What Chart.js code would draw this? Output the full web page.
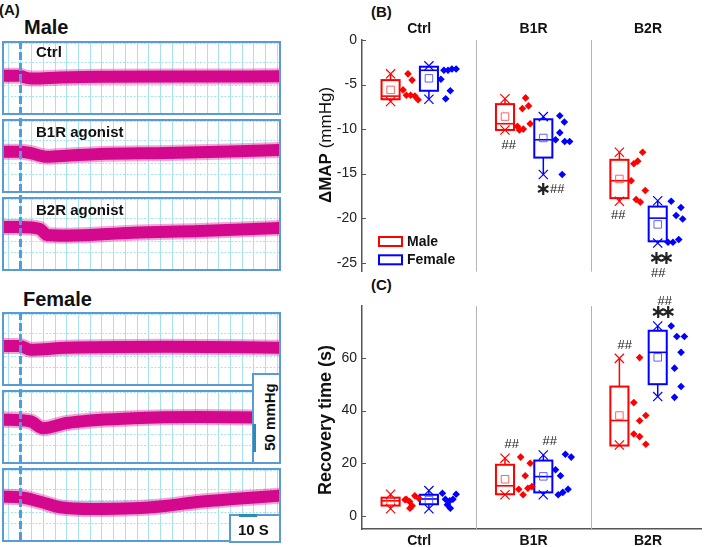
<!DOCTYPE html>
<html><head><meta charset="utf-8">
<script src="https://cdn.jsdelivr.net/npm/chart.js@4"></script>
<style>
body{margin:0;background:#fff;width:709px;height:547px;overflow:hidden;position:relative;font-family:"Liberation Sans",Arial,sans-serif;}
.abs{position:absolute;}
.tbox{position:absolute;left:2px;width:279px;height:74px;box-sizing:border-box;border:2px solid #5b9bd5;background:#fff;}
.tbox canvas{display:block;}
.lbl{position:absolute;font-weight:bold;line-height:1;white-space:nowrap;color:#111;}
.dash{position:absolute;left:19px;width:3px;background:repeating-linear-gradient(to bottom,#4d9de0 0px,#4d9de0 8px,rgba(0,0,0,0) 8px,rgba(0,0,0,0) 11px);z-index:3;}
.sbox{position:absolute;box-sizing:border-box;border:2px solid #5b9bd5;background:#fff;z-index:4;}
.bar{position:absolute;background:#2a8db2;z-index:5;}
</style></head><body>

<div class="lbl" style="left:-1px;top:2px;font-size:15px;">(A)</div>
<div class="lbl" style="left:24px;top:17px;font-size:20px;">Male</div>
<div class="lbl" style="left:23px;top:289px;font-size:20px;">Female</div>
<div class="lbl" style="left:371px;top:4px;font-size:15px;">(B)</div>
<div class="lbl" style="left:371px;top:277px;font-size:15px;">(C)</div>

<div class="tbox" style="top:41px;"><canvas id="t1" width="275" height="70"></canvas></div>
<div class="tbox" style="top:119px;"><canvas id="t2" width="275" height="70"></canvas></div>
<div class="tbox" style="top:197px;"><canvas id="t3" width="275" height="70"></canvas></div>
<div class="tbox" style="top:312px;"><canvas id="t4" width="275" height="70"></canvas></div>
<div class="tbox" style="top:390px;"><canvas id="t5" width="275" height="70"></canvas></div>
<div class="tbox" style="top:468px;"><canvas id="t6" width="275" height="70"></canvas></div>

<div class="lbl" style="left:36px;top:44px;font-size:15px;z-index:2;">Ctrl</div>
<div class="lbl" style="left:36px;top:124px;font-size:15px;z-index:2;">B1R agonist</div>
<div class="lbl" style="left:36px;top:202px;font-size:15px;z-index:2;">B2R agonist</div>

<div class="dash" style="top:41px;height:230px;"></div>
<div class="dash" style="top:312px;height:230px;"></div>

<div class="sbox" style="left:252px;top:373px;width:29px;height:91px;"></div>
<div class="bar" style="left:253px;top:424px;width:3px;height:28px;"></div>
<div class="lbl" style="left:269px;top:417px;font-size:15px;z-index:6;transform:translate(-50%,-50%) rotate(-90deg);">50 mmHg</div>

<div class="sbox" style="left:229px;top:514px;width:52px;height:29px;"></div>
<div class="bar" style="left:239px;top:514px;width:18px;height:3px;"></div>
<div class="lbl" style="left:238px;top:522px;font-size:15px;z-index:6;">10 S</div>

<canvas id="cB" class="abs" style="left:300px;top:0px;" width="409" height="285"></canvas>
<canvas id="cC" class="abs" style="left:300px;top:285px;" width="409" height="262"></canvas>

<script>
// ---------- DATA ----------
const categories = ['Ctrl', 'B1R', 'B2R'];

// Panel A: pressure traces (time in s, pressure centre-line in mmHg)
const maleCtrlT = [0, 10, 12.8, 17.2, 32.2, 54.4, 110, 155];
const maleCtrlP = [96.6, 96.6, 93.4, 91.6, 93.4, 94.8, 95.2, 95.5];
const maleB1RT = [0, 10, 15.6, 25, 37.8, 54.4, 91.7, 126.7, 155];
const maleB1RP = [100.2, 100.2, 97.9, 91.1, 93.4, 96.1, 97.9, 100.5, 103.2];
const maleB2RT = [0, 10, 21.1, 25, 36.1, 72.8, 110, 155];
const maleB2RP = [105, 105, 101.4, 90.7, 89.5, 94.8, 97.9, 103.2];
const femCtrlT = [0, 10, 15.6, 36.1, 91.7, 155];
const femCtrlP = [97.9, 97.9, 91.3, 94.8, 96.6, 94.8];
const femB1RT = [0, 15.6, 22.8, 36.1, 72.8, 110, 155];
const femB1RP = [105.5, 102.7, 90.2, 99.6, 108, 110.4, 109.1];
const femB2RT = [0, 10, 21.1, 32.2, 50.6, 72.8, 91.7, 110, 128.3, 155];
const femB2RP = [107.3, 106.3, 98.4, 88.4, 85.4, 86.6, 91.3, 98.4, 103.2, 109.1];

// Panel B: ΔMAP (mmHg)
const mapTicks = [0, -5, -10, -15, -20, -25];
const mapMaleQ1 = [-6.65, -10.1, -17.75];
const mapMaleQ3 = [-4.5, -7.2, -13.45];
const mapMaleMed = [-6.3, -9.4, -15.8];
const mapMaleMean = [-5.6, -8.6, -15.6];
const mapMaleMin = [-6.9, -10.1, -18.1];
const mapMaleMax = [-3.8, -6.6, -12.6];
const mapMalePts = [[-5.6, -3.8, -4.5, -6.2, -6.2, -6.3, -6.7], [-6.5, -7.4, -7.7, -9.4, -9.7, -10.0, -10.1], [-12.6, -13.6, -13.9, -15.8, -16.9, -17.9, -18.2]];
const mapFemaleQ1 = [-5.7, -13.2, -22.6];
const mapFemaleQ3 = [-3.0, -8.9, -18.7];
const mapFemaleMed = [-3.4, -11.2, -20.0];
const mapFemaleMean = [-4.3, -11.0, -20.7];
const mapFemaleMin = [-6.65, -15.1, -22.8];
const mapFemaleMax = [-2.9, -8.6, -18.05];
const mapFemalePts = [[-4.4, -3.4, -3.4, -3.25, -3.25, -5.7, -6.6], [-8.5, -9.2, -10.4, -11.2, -11.4, -11.4, -15.1], [-18.1, -18.8, -19.7, -20.1, -22.7, -22.7, -22.4]];
// significance marks: [text, category index, value]
const mapMarks = [['##', 1, -11.8], ['*', 1, -16.8], ['##', 1, -16.8], ['##', 2, -19.7], ['**', 2, -24.6], ['##', 2, -26.2]];

// Panel C: Recovery time (s)
const recTicks = [0, 20, 40, 60];
const recMaleQ1 = [3.9, 8.2, 26.7];
const recMaleQ3 = [6.9, 19.4, 49.1];
const recMaleMed = [5.7, 11.4, 36.2];
const recMaleMean = [5.5, 13.9, 38.1];
const recMaleMin = [2.7, 8.0, 26.9];
const recMaleMax = [8.2, 21.9, 59.8];
const recMalePts = [[6.3, 5.4, 7.6, 6.7, 3.8, 6.1, 2.9], [22.3, 20.0, 15.2, 10.1, 10.5, 11.1, 8.0], [60.1, 43.0, 38.1, 36.1, 31.1, 30.1, 27.2]];
const recFemaleQ1 = [4.4, 8.9, 50.0];
const recFemaleQ3 = [8.0, 21.0, 70.3];
const recFemaleMed = [6.4, 14.9, 62.1];
const recFemaleMean = [6.0, 15.0, 60.2];
const recFemaleMin = [2.7, 8.0, 45.3];
const recFemaleMax = [9.6, 23.1, 72.1];
const recFemalePts = [[8.6, 8.2, 6.3, 5.7, 6.3, 2.9, 4.2], [15.2, 17.5, 23.4, 22.3, 8.0, 8.9, 10.1], [72.1, 68.1, 68.1, 62.1, 56.1, 49.1, 45.0]];
const recMarks = [['##', 1, 27.2], ['##', 1, 28.2], ['##', 2, 64.9], ['**', 2, 76.9], ['##', 2, 81.3]];

// ---------- LAYOUT (positions / styles) ----------
const mapMaleJit = [[-0.141, -0.098, -0.062, -0.112, -0.075, -0.038, -0.010], [-0.07, -0.044, -0.098, -0.03, -0.141, -0.09, -0.124], [-0.047, -0.09, -0.124, -0.147, -0.024, -0.104, -0.067]];
const mapFemaleJit = [[0.19, 0.216, 0.252, 0.286, 0.323, 0.272, 0.232], [0.229, 0.269, 0.229, 0.192, 0.272, 0.315, 0.25], [0.203, 0.288, 0.246, 0.303, 0.175, 0.218, 0.269]];
const recMaleJit = [[-0.113, -0.084, -0.038, -0.004, -0.062, -0.124, -0.081], [-0.113, -0.03, -0.073, -0.13, -0.05, -0.015, -0.092], [-0.073, -0.124, -0.019, -0.073, -0.124, -0.073, -0.019]];
const recFemaleJit = [[0.203, 0.323, 0.229, 0.267, 0.295, 0.272, 0.246], [0.235, 0.192, 0.278, 0.329, 0.215, 0.255, 0.301], [0.203, 0.252, 0.318, 0.289, 0.232, 0.289, 0.232]];
const mapMarkDx = [-0.218, 0.084, 0.207, -0.261, 0.118, 0.09];
const recMarkDx = [-0.192, 0.141, -0.203, 0.132, 0.147];

const TRACE_COLOR = '#d4088c';
const TRACE_FUZZ = 'rgba(212,8,140,0.35)';
const GRID_C = '#a6e4ec';
const RED = '#ff0000', BLUE = '#0000ff';
const BOX_HALF = 0.079, MALE_OFF = -0.25, FEMALE_OFF = 0.085;
const FONT = '"Liberation Sans", Arial, sans-serif';

const gridT = [];
for (let t = 3.5; t < 154; t += 6.5) gridT.push(t);

function traceChart(id, times, press) {
  const pts = times.map((t, i) => ({ x: t, y: press[i] }));
  new Chart(document.getElementById(id), {
    type: 'line',
    data: { datasets: [
      { data: pts, borderColor: TRACE_FUZZ, borderWidth: 16, pointRadius: 0, cubicInterpolationMode: 'monotone', borderCapStyle: 'butt', fill: false },
      { data: pts, borderColor: TRACE_COLOR, borderWidth: 12, pointRadius: 0, cubicInterpolationMode: 'monotone', borderCapStyle: 'butt', fill: false }
    ] },
    options: {
      responsive: false, animation: false, events: [], layout: { padding: 0 },
      plugins: { legend: { display: false }, tooltip: { enabled: false } },
      scales: {
        x: { type: 'linear', min: 1.1, max: 153.9, afterBuildTicks: s => { s.ticks = gridT.map(v => ({ value: v })); }, ticks: { display: false }, grid: { color: GRID_C, drawTicks: false, lineWidth: 1 }, border: { display: false } },
        y: { type: 'linear', min: 30, max: 155, ticks: { display: false, stepSize: 20 }, grid: { color: GRID_C, drawTicks: false, lineWidth: 1 }, border: { display: false, dash: [2, 1.5] } }
      }
    }
  });
}
traceChart('t1', maleCtrlT, maleCtrlP);
traceChart('t2', maleB1RT, maleB1RP);
traceChart('t3', maleB2RT, maleB2RP);
traceChart('t4', femCtrlT, femCtrlP);
traceChart('t5', femB1RT, femB1RP);
traceChart('t6', femB2RT, femB2RP);

function statChart(id, o) {
  const groups = o.groups;
  const datasets = [];
  groups.forEach(g => {
    const pts = [];
    g.pts.forEach((arr, i) => arr.forEach((v, k) => pts.push({ x: i + 1 + g.jit[i][k], y: v })));
    datasets.push({ data: pts, pointStyle: 'rectRot', pointRadius: 3.8, backgroundColor: g.color, borderColor: g.color, borderWidth: 0 });
  });
  groups.forEach(g => {
    const ext = [];
    g.min.forEach((v, i) => { ext.push({ x: i + 1 + g.off, y: v }); ext.push({ x: i + 1 + g.off, y: g.max[i] }); });
    datasets.push({ data: ext, pointStyle: 'crossRot', pointRadius: 6.5, borderColor: g.color, borderWidth: 1.2, backgroundColor: g.color });
    datasets.push({ data: g.mean.map((v, i) => ({ x: i + 1 + g.off, y: v })), pointStyle: 'rect', pointRadius: 5.3, borderColor: g.meanColor, borderWidth: 1, backgroundColor: 'rgba(0,0,0,0)' });
  });

  const plugin = {
    id: 'stat_' + id,
    beforeDatasetsDraw(chart) {
      const ctx = chart.ctx, xs = chart.scales.x, ys = chart.scales.y, ca = chart.chartArea;
      ctx.save();
      ctx.strokeStyle = '#b4b4b4'; ctx.lineWidth = 1;
      [1.5, 2.5].forEach(v => { const x = Math.round(xs.getPixelForValue(v)) + 0.5; ctx.beginPath(); ctx.moveTo(x, ca.top); ctx.lineTo(x, ca.bottom); ctx.stroke(); });
      groups.forEach(g => {
        for (let i = 0; i < 3; i++) {
          const c = i + 1 + g.off;
          const cx = xs.getPixelForValue(c);
          const x0 = xs.getPixelForValue(c - BOX_HALF), x1 = xs.getPixelForValue(c + BOX_HALF);
          const yq1 = ys.getPixelForValue(g.q1[i]), yq3 = ys.getPixelForValue(g.q3[i]);
          const ymed = ys.getPixelForValue(g.med[i]);
          const ymin = ys.getPixelForValue(g.min[i]), ymax = ys.getPixelForValue(g.max[i]);
          ctx.strokeStyle = g.color;
          ctx.lineWidth = 1.5;
          ctx.beginPath(); ctx.moveTo(cx, yq3); ctx.lineTo(cx, ymax); ctx.moveTo(cx, yq1); ctx.lineTo(cx, ymin); ctx.stroke();
          ctx.lineWidth = 2;
          ctx.strokeRect(x0, yq3, x1 - x0, yq1 - yq3);
          ctx.lineWidth = 1.6;
          ctx.beginPath(); ctx.moveTo(x0, ymed); ctx.lineTo(x1, ymed); ctx.stroke();
        }
      });
      ctx.restore();
    },
    afterDraw(chart) {
      const ctx = chart.ctx, xs = chart.scales.x, ys = chart.scales.y, ca = chart.chartArea;
      ctx.save();
      ctx.strokeStyle = '#555'; ctx.lineWidth = 1;
      o.ticks.forEach(v => { const y = Math.round(ys.getPixelForValue(v)) + 0.5; ctx.beginPath(); ctx.moveTo(ca.left, y); ctx.lineTo(ca.left + 4, y); ctx.stroke(); });
      ctx.fillStyle = '#222'; ctx.textAlign = 'center'; ctx.textBaseline = 'middle';
      o.marks.forEach((m, k) => {
        const x = xs.getPixelForValue(m[1] + 1 + o.markDx[k]);
        const y = ys.getPixelForValue(m[2]);
        if (m[0] === '##') { ctx.font = '13px ' + FONT; ctx.fillText('##', x, y); }
        else {
          ctx.font = 'bold 19px "DejaVu Sans"';
          if (m[0] === '**') { ctx.fillText('\u2217', x - 5, y); ctx.fillText('\u2217', x + 5, y); }
          else ctx.fillText('\u2217', x, y);
        }
      });
      ctx.translate(26, o.titleY);
      ctx.rotate(-Math.PI / 2);
      ctx.fillStyle = '#111'; ctx.textBaseline = 'middle'; ctx.textAlign = 'left';
      let total = 0;
      o.title.forEach(p => { ctx.font = p[1]; total += ctx.measureText(p[0]).width; });
      let xx = -total / 2;
      o.title.forEach(p => { ctx.font = p[1]; ctx.fillText(p[0], xx, 0); xx += ctx.measureText(p[0]).width; });
      ctx.restore();
      if (o.legend) {
        ctx.save();
        ctx.lineWidth = 2; ctx.textBaseline = 'middle'; ctx.textAlign = 'left';
        ctx.font = 'bold 14px ' + FONT; ctx.fillStyle = '#111';
        o.legend.forEach((l, k) => {
          const lx = ca.left + 17, ly = ca.top + 197 + k * 18.3;
          ctx.strokeStyle = l[1]; ctx.strokeRect(lx, ly, 23, 9);
          ctx.fillText(l[0], lx + 28, ly + 5);
        });
        ctx.restore();
      }
    }
  };

  const top = o.xPos === 'top';
  new Chart(document.getElementById(id), {
    type: 'scatter',
    data: { datasets },
    plugins: [plugin],
    options: {
      responsive: false, animation: false, events: [],
      layout: { padding: o.padding },
      plugins: { legend: { display: false }, tooltip: { enabled: false } },
      scales: {
        x: {
          type: 'linear', position: o.xPos, min: 0.5, max: 3.466,
          afterBuildTicks: s => { s.ticks = [1, 2, 3].map(v => ({ value: v })); },
          afterFit: s => { s.height = top ? 40 : 18; },
          ticks: { callback: v => categories[Math.round(v) - 1], font: { family: FONT, size: 14, weight: 'bold' }, color: '#111', padding: top ? 2 : 4, maxRotation: 0, autoSkip: false },
          grid: { display: false, drawTicks: false },
          border: { display: !top, color: '#555', width: 1.5 }
        },
        y: {
          type: 'linear', min: o.ymin, max: o.ymax,
          afterFit: s => { s.width = 62; },
          afterBuildTicks: s => { s.ticks = o.ticks.map(v => ({ value: v })); },
          ticks: { font: { family: FONT, size: 14 }, color: '#222', padding: 5 },
          grid: { display: false, drawTicks: false },
          border: { display: true, color: '#555', width: 1.5 }
        }
      }
    }
  });
}

statChart('cB', {
  xPos: 'top', ymin: -26, ymax: 0, ticks: mapTicks, padding: { top: 0, bottom: 13, left: 0, right: 0 },
  titleY: 145, title: [['\u0394MAP', 'bold 17px ' + FONT], [' (mmHg)', '17px ' + FONT]],
  marks: mapMarks, markDx: mapMarkDx,
  legend: [['Male', RED], ['Female', BLUE]],
  groups: [
    { color: RED, meanColor: 'rgba(255,60,60,0.8)', off: MALE_OFF, q1: mapMaleQ1, q3: mapMaleQ3, med: mapMaleMed, mean: mapMaleMean, min: mapMaleMin, max: mapMaleMax, pts: mapMalePts, jit: mapMaleJit },
    { color: BLUE, meanColor: 'rgba(60,60,255,0.8)', off: FEMALE_OFF, q1: mapFemaleQ1, q3: mapFemaleQ3, med: mapFemaleMed, mean: mapFemaleMean, min: mapFemaleMin, max: mapFemaleMax, pts: mapFemalePts, jit: mapFemaleJit }
  ]
});

statChart('cC', {
  xPos: 'bottom', ymin: -5, ymax: 79.7, ticks: recTicks, padding: { top: 21, bottom: 0, left: 0, right: 0 },
  titleY: 135, title: [['Recovery time (s)', 'bold 18px ' + FONT]],
  marks: recMarks, markDx: recMarkDx,
  legend: null,
  groups: [
    { color: RED, meanColor: 'rgba(255,60,60,0.8)', off: MALE_OFF, q1: recMaleQ1, q3: recMaleQ3, med: recMaleMed, mean: recMaleMean, min: recMaleMin, max: recMaleMax, pts: recMalePts, jit: recMaleJit },
    { color: BLUE, meanColor: 'rgba(60,60,255,0.8)', off: FEMALE_OFF, q1: recFemaleQ1, q3: recFemaleQ3, med: recFemaleMed, mean: recFemaleMean, min: recFemaleMin, max: recFemaleMax, pts: recFemalePts, jit: recFemaleJit }
  ]
});
</script>
</body></html>
